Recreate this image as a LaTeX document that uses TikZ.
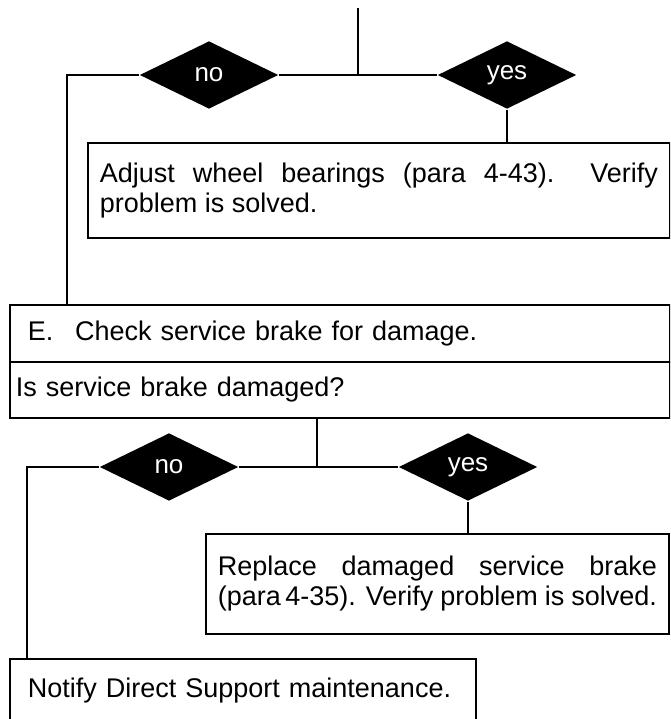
\documentclass[tikz,border=0pt]{standalone}
\usepackage{fontspec}
\setmainfont{Liberation Sans}
\usetikzlibrary{shapes.geometric}
\tikzset{
  decision/.style={diamond, fill=black, minimum width=139pt, minimum height=68pt,
    inner sep=0pt, text=white, font=\fontsize{26}{26}\selectfont},
  stepbox/.style={draw, line width=1.8pt, anchor=north west, inner ysep=0pt,
    font=\fontsize{27}{30}\selectfont}
}
\begin{document}
\begin{tikzpicture}[x=1pt, y=-1pt, line width=1.8pt]
    \useasboundingbox (0,0) rectangle (670,719);
    \clip (0,0) rectangle (670,719);
    % Decisions
    \node[decision] (no1) at (209,75) {no};
    \node[decision] (yes1) at (507,75) {yes};
    \node[decision] (no2) at (169,467) {no};
    \node[decision] (yes2) at (468,467) {yes};
    % Boxes
    \node[stepbox, inner xsep=12pt, text width=558pt, minimum height=95pt, align=justify]
        (adjust) at (87,142) {Adjust wheel bearings (para 4-43).\ \ Verify\linebreak problem is solved.};
    \node[stepbox, inner xsep=18pt, text width=624pt, minimum height=57pt, align=left]
        (check) at (9,304) {E.\hspace{0.8em}Check service brake for damage.};
    \node[stepbox, inner xsep=6pt, text width=648pt, minimum height=56pt, align=left]
        (question) at (9,361) {Is service brake damaged?};
    \node[stepbox, inner xsep=12pt, text width=439pt, minimum height=100pt, align=justify]
        (replace) at (205,533) {Replace damaged service brake\linebreak (para\,4-35). Verify problem is solved.};
    \node[stepbox, inner xsep=18pt, text width=430pt, minimum height=64pt, align=left]
        (notify) at (9,658) {Notify Direct Support maintenance.};
    % Lines
    \coordinate (top) at (358,8);
    \coordinate (left1) at (67,75);
    \coordinate (mid2) at (317,467);
    \coordinate (left2) at (27,467);
    \draw (top) -- (top |- no1.east);
    \draw (no1.east) -- (yes1.west);
    \draw (no1.west) -- (left1) -- (left1 |- check.north);
    \draw (yes1.south) -- (yes1.south |- adjust.north);
    \draw (mid2 |- question.south) -- (mid2);
    \draw (no2.east) -- (yes2.west);
    \draw (no2.west) -- (left2) -- (left2 |- notify.north);
    \draw (yes2.south) -- (yes2.south |- replace.north);
\end{tikzpicture}
\end{document}
